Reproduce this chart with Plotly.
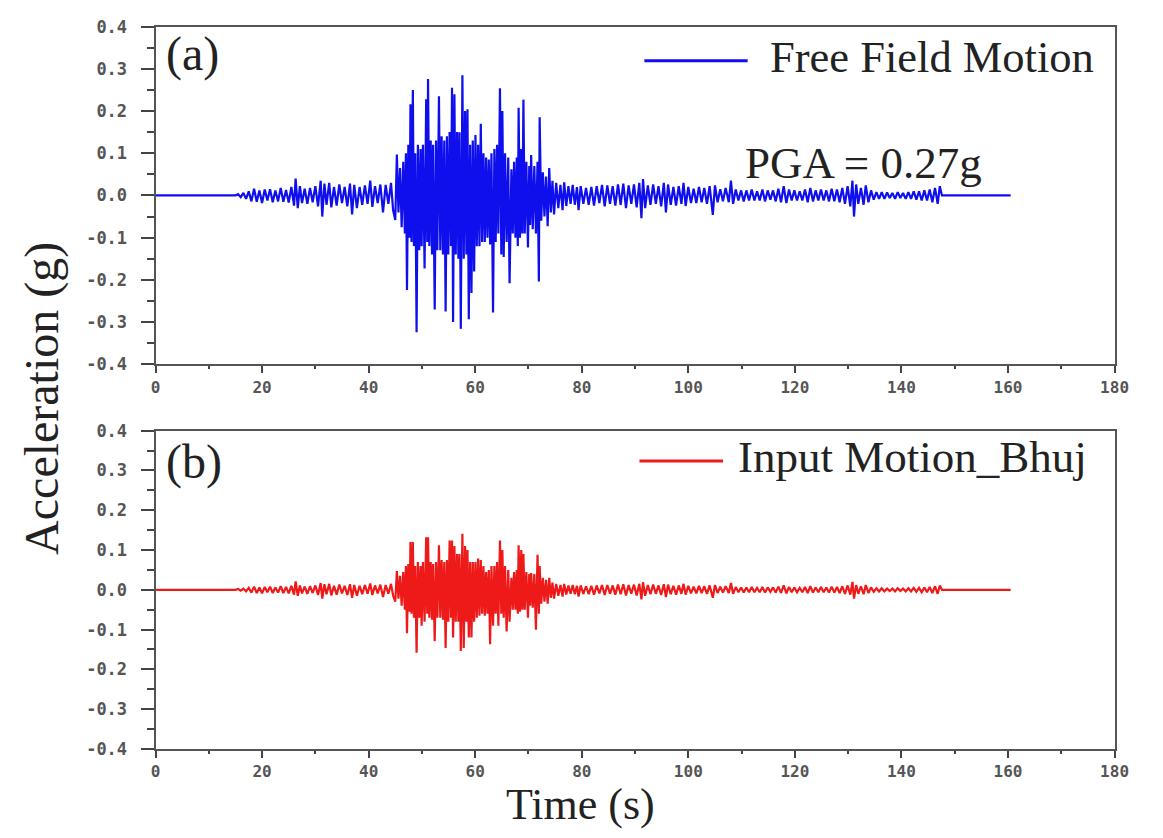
import plotly.graph_objects as go

# Sample times (s) shared by both records
time_s = [
    0.0, 15.0,
    15.5, 16.0, 16.5, 17.0, 17.5, 18.0, 18.5, 19.0, 19.5, 20.0,
    20.5, 21.0, 21.5, 22.0, 22.5, 23.0, 23.5, 24.0, 24.5, 25.0,
    25.5, 26.0, 26.3, 26.7, 27.1, 27.5, 28.0, 28.5, 29.0, 29.5,
    30.0, 30.5, 31.0, 31.3, 31.7, 32.1, 32.6, 33.0, 33.5, 34.0,
    34.5, 35.0, 35.5, 36.0, 36.5, 36.9, 37.3, 37.8, 38.3, 38.8,
    39.3, 39.8, 40.3, 40.7, 41.2, 41.7, 42.2, 42.7, 43.2, 43.7,
    44.2, 44.6,
    45.0, 45.3, 45.6, 45.9, 46.2, 46.5, 46.8, 47.0, 47.2, 47.45,
    47.7, 47.85, 48.05, 48.3, 48.5, 48.75, 49.0, 49.25, 49.5, 49.75,
    49.95, 50.2, 50.5, 50.8, 51.0, 51.15, 51.4, 51.65, 51.9, 52.1,
    52.4, 52.65, 52.9, 53.2, 53.45, 53.7, 53.95, 54.2, 54.45, 54.7,
    54.95, 55.2, 55.45, 55.65, 55.85, 56.1, 56.35, 56.6, 56.85, 57.05,
    57.3, 57.6, 57.85, 58.1, 58.35, 58.55, 58.8, 59.05, 59.3, 59.55,
    59.8, 60.05, 60.3, 60.55, 60.8, 61.05, 61.3, 61.55, 61.8, 62.05,
    62.3, 62.55, 62.8, 63.05, 63.35, 63.6, 63.85, 64.1, 64.35, 64.65,
    64.9, 65.1, 65.35, 65.6, 65.9, 66.2, 66.45, 66.8, 67.05, 67.3,
    67.55, 67.8, 68.0, 68.15, 68.4, 68.65, 68.85, 69.05, 69.3, 69.6,
    69.9, 70.15, 70.3, 70.5, 70.8, 71.1, 71.4, 71.7, 71.95, 72.1,
    72.4, 72.7, 73.0, 73.3, 73.6, 73.9, 74.2, 74.5,
    74.8, 75.2, 75.6, 76.0, 76.4, 76.7, 77.1, 77.5, 77.9, 78.3,
    78.7, 79.1, 79.4, 79.8, 80.3, 80.8, 81.3, 81.8, 82.3, 82.8,
    83.3, 83.8, 84.3, 84.8, 85.3, 85.8, 86.3, 86.8, 87.3, 87.8,
    88.3, 88.8, 89.3, 89.8, 90.3, 90.8, 91.2, 91.5, 91.9, 92.4,
    92.9, 93.4, 93.9, 94.4, 94.9, 95.4, 95.8, 96.2, 96.7, 97.2,
    97.7, 98.2, 98.7, 99.1, 99.5, 100.0, 100.5, 101.0, 101.5, 102.0,
    102.5, 103.0, 103.5, 104.0, 104.6, 105.0, 105.5, 106.0, 106.5, 107.0,
    107.6, 108.0, 108.4, 108.9, 109.4, 109.9, 110.4, 110.9, 111.4, 111.9,
    112.4, 112.9, 113.4, 113.9, 114.4, 114.9, 115.4, 115.9, 116.4, 116.9,
    117.4, 117.9, 118.4, 118.9, 119.4, 119.9, 120.4, 120.9, 121.4, 121.9,
    122.4, 122.9, 123.4, 123.9, 124.4, 124.9, 125.4, 125.9, 126.4, 126.9,
    127.4, 127.9, 128.4, 128.9, 129.4, 129.9, 130.4, 130.8, 131.1, 131.5,
    131.9, 132.4, 132.9, 133.3, 133.8, 134.3, 134.8, 135.3, 135.8, 136.3,
    136.8, 137.3, 137.8, 138.3, 138.8, 139.3, 139.8, 140.3, 140.8, 141.3,
    141.8, 142.3, 142.8, 143.3, 143.8, 144.3, 144.8, 145.3, 145.8, 146.3,
    146.8, 147.2, 147.6, 160.5,
]

# Free field acceleration (g)
free_field_g = [
    0.0, 0.0,
    0.003, -0.004, 0.006, -0.008, 0.010, -0.014, 0.016, -0.015, 0.012, -0.018,
    0.014, -0.012, 0.015, -0.016, 0.012, -0.014, 0.018, -0.015, 0.013, -0.017,
    0.020, -0.024, 0.040, -0.030, 0.022, -0.018, 0.016, -0.020, 0.018, -0.016,
    0.022, -0.026, 0.035, -0.050, 0.028, -0.022, 0.030, -0.028, 0.020, -0.024,
    0.026, -0.018, 0.020, -0.026, 0.028, -0.045, 0.025, -0.030, 0.020, -0.022,
    0.024, -0.020, 0.035, -0.027, 0.022, -0.018, 0.026, -0.040, 0.025, -0.020,
    0.030, -0.035,
    -0.058, 0.097, -0.040, 0.065, -0.075, 0.080, -0.090, 0.100, -0.224, 0.120,
    -0.100, 0.216, -0.110, 0.250, -0.120, 0.100, -0.324, 0.120, -0.130, 0.110,
    -0.120, 0.120, -0.173, 0.228, -0.110, 0.276, -0.120, 0.130, -0.140, 0.120,
    -0.270, 0.130, -0.130, 0.235, -0.130, 0.140, -0.140, 0.130, -0.275, 0.140,
    -0.140, 0.150, -0.120, 0.255, -0.300, 0.240, -0.140, 0.150, -0.150, 0.150,
    -0.316, 0.285, -0.150, 0.200, -0.140, 0.204, -0.293, 0.120, -0.231, 0.130,
    -0.180, 0.143, -0.120, 0.120, -0.120, 0.170, -0.110, 0.100, -0.110, 0.090,
    -0.100, 0.085, -0.116, 0.100, -0.277, 0.110, -0.110, 0.120, -0.090, 0.254,
    -0.140, 0.200, -0.146, 0.100, -0.110, 0.090, -0.208, 0.062, -0.090, 0.080,
    -0.100, 0.090, -0.120, 0.208, -0.100, 0.110, -0.090, 0.227, -0.090, 0.080,
    -0.123, 0.070, -0.070, 0.096, -0.080, 0.070, -0.090, 0.080, -0.204, 0.185,
    -0.060, 0.055, -0.050, 0.045, -0.073, 0.065, -0.040, 0.035,
    -0.045, 0.030, -0.030, 0.025, -0.035, 0.031, -0.025, 0.022, -0.020, 0.025,
    -0.022, 0.020, -0.035, 0.022, -0.020, 0.018, -0.022, 0.020, -0.024, 0.022,
    -0.018, 0.025, -0.026, 0.024, -0.020, 0.022, -0.024, 0.026, -0.022, 0.028,
    -0.030, 0.024, -0.020, 0.026, -0.028, 0.030, -0.054, 0.039, -0.030, 0.024,
    -0.022, 0.026, -0.020, 0.022, -0.026, 0.030, -0.040, 0.026, -0.022, 0.020,
    -0.024, 0.022, -0.020, 0.030, -0.025, 0.020, -0.018, 0.016, -0.018, 0.020,
    -0.016, 0.018, -0.020, 0.022, -0.046, 0.024, -0.016, 0.015, -0.014, 0.018,
    -0.016, 0.035, -0.020, 0.014, -0.012, 0.012, -0.014, 0.012, -0.012, 0.014,
    -0.012, 0.010, -0.012, 0.014, -0.014, 0.012, -0.010, 0.012, -0.014, 0.016,
    -0.016, 0.022, -0.018, 0.014, -0.012, 0.012, -0.012, 0.010, -0.012, 0.014,
    -0.016, 0.018, -0.014, 0.012, -0.012, 0.014, -0.012, 0.012, -0.014, 0.016,
    -0.014, 0.014, -0.016, 0.018, -0.020, 0.022, -0.026, 0.035, -0.050, 0.026,
    -0.020, 0.018, -0.022, 0.024, -0.016, 0.012, -0.010, 0.008, -0.008, 0.008,
    -0.008, 0.007, -0.006, 0.006, -0.008, 0.008, -0.006, 0.006, -0.008, 0.008,
    -0.008, 0.010, -0.010, 0.010, -0.012, 0.012, -0.012, 0.014, -0.016, 0.018,
    -0.020, 0.022, 0.0, 0.0,
]

# Input motion (Bhuj) acceleration (g)
input_bhuj_g = [
    0.0, 0.0,
    0.002, -0.002, 0.003, -0.004, 0.005, -0.007, 0.008, -0.008, 0.006, -0.009,
    0.007, -0.006, 0.008, -0.008, 0.006, -0.007, 0.009, -0.008, 0.007, -0.009,
    0.010, -0.012, 0.021, -0.015, 0.011, -0.009, 0.008, -0.010, 0.009, -0.008,
    0.011, -0.013, 0.017, -0.022, 0.014, -0.011, 0.015, -0.014, 0.010, -0.012,
    0.013, -0.009, 0.010, -0.013, 0.014, -0.020, 0.012, -0.015, 0.010, -0.011,
    0.012, -0.010, 0.016, -0.013, 0.011, -0.009, 0.013, -0.018, 0.012, -0.010,
    0.015, -0.015,
    -0.030, 0.047, -0.022, 0.035, -0.040, 0.045, -0.050, 0.060, -0.109, 0.065,
    -0.055, 0.120, -0.060, 0.120, -0.070, 0.060, -0.158, 0.070, -0.070, 0.060,
    -0.090, 0.070, -0.080, 0.132, -0.060, 0.132, -0.070, 0.070, -0.075, 0.065,
    -0.129, 0.070, -0.070, 0.112, -0.070, 0.075, -0.075, 0.070, -0.146, 0.075,
    -0.080, 0.124, -0.070, 0.124, -0.120, 0.110, -0.080, 0.090, -0.080, 0.090,
    -0.154, 0.141, -0.146, 0.110, -0.080, 0.100, -0.120, 0.070, -0.120, 0.070,
    -0.080, 0.070, -0.070, 0.079, -0.065, 0.075, -0.060, 0.060, -0.065, 0.045,
    -0.060, 0.050, -0.137, 0.060, -0.090, 0.060, -0.060, 0.070, -0.090, 0.124,
    -0.060, 0.100, -0.070, 0.060, -0.105, 0.050, -0.080, 0.030, -0.050, 0.045,
    -0.050, 0.050, -0.060, 0.112, -0.055, 0.100, -0.050, 0.090, -0.050, 0.045,
    -0.070, 0.040, -0.040, 0.042, -0.045, 0.040, -0.100, 0.088, -0.060, 0.060,
    -0.035, 0.030, -0.030, 0.025, -0.035, 0.030, -0.020, 0.018,
    -0.022, 0.015, -0.015, 0.012, -0.017, 0.015, -0.012, 0.011, -0.010, 0.012,
    -0.011, 0.010, -0.017, 0.011, -0.010, 0.009, -0.011, 0.010, -0.012, 0.011,
    -0.009, 0.012, -0.013, 0.012, -0.010, 0.011, -0.012, 0.013, -0.011, 0.014,
    -0.014, 0.012, -0.010, 0.013, -0.014, 0.015, -0.024, 0.019, -0.015, 0.012,
    -0.011, 0.013, -0.010, 0.011, -0.013, 0.014, -0.018, 0.013, -0.011, 0.010,
    -0.012, 0.011, -0.010, 0.015, -0.012, 0.010, -0.009, 0.008, -0.009, 0.010,
    -0.008, 0.009, -0.010, 0.011, -0.020, 0.012, -0.008, 0.008, -0.007, 0.009,
    -0.008, 0.017, -0.010, 0.007, -0.006, 0.006, -0.007, 0.006, -0.006, 0.007,
    -0.006, 0.005, -0.006, 0.007, -0.007, 0.006, -0.005, 0.006, -0.007, 0.008,
    -0.008, 0.011, -0.009, 0.007, -0.006, 0.006, -0.006, 0.005, -0.006, 0.007,
    -0.008, 0.009, -0.007, 0.006, -0.006, 0.007, -0.006, 0.006, -0.007, 0.008,
    -0.007, 0.007, -0.008, 0.009, -0.010, 0.011, -0.012, 0.020, -0.022, 0.012,
    -0.010, 0.009, -0.011, 0.012, -0.008, 0.006, -0.005, 0.004, -0.004, 0.004,
    -0.004, 0.003, -0.003, 0.003, -0.004, 0.004, -0.003, 0.003, -0.004, 0.004,
    -0.004, 0.005, -0.005, 0.005, -0.006, 0.006, -0.006, 0.007, -0.008, 0.009,
    -0.010, 0.011, 0.0, 0.0,
]

x_tick_values = [0, 20, 40, 60, 80, 100, 120, 140, 160, 180]
x_tick_labels = ["0", "20", "40", "60", "80", "100", "120", "140", "160", "180"]
y_tick_values = [-0.4, -0.3, -0.2, -0.1, 0.0, 0.1, 0.2, 0.3, 0.4]
y_tick_labels = ["-0.4", "-0.3", "-0.2", "-0.1", "0.0", "0.1", "0.2", "0.3", "0.4"]

BLUE = "#0f0fee"
RED = "#ee1a1a"
SERIF = "Liberation Serif"
TICK_FONT = dict(family="DejaVu Sans Mono", size=17, color="#555555", weight="bold")
X_TICK_FONT = dict(family="DejaVu Sans Mono", size=16, color="#555555", weight="bold")

fig = go.Figure()
fig.add_trace(go.Scatter(x=time_s, y=free_field_g, mode="lines",
                         line=dict(color=BLUE, width=2.2),
                         name="Free Field Motion", xaxis="x", yaxis="y"))
fig.add_trace(go.Scatter(x=time_s, y=input_bhuj_g, mode="lines",
                         line=dict(color=RED, width=2.2),
                         name="Input Motion_Bhuj", xaxis="x2", yaxis="y2"))

def x_axis(domain, anchor):
    return dict(domain=domain, anchor=anchor, range=[0, 180],
                tickmode="array", tickvals=x_tick_values, ticktext=x_tick_labels,
                ticks="outside", ticklen=7, tickwidth=2, tickcolor="#444",
                minor=dict(dtick=10, ticks="outside", ticklen=3, tickwidth=2,
                           tickcolor="#444", showgrid=False),
                showline=True, linecolor="#555", linewidth=2, mirror=True,
                showgrid=False, zeroline=False, tickfont=X_TICK_FONT,
                ticklabelstandoff=0)

def y_axis(domain, anchor):
    return dict(domain=domain, anchor=anchor, range=[-0.4, 0.4],
                tickmode="array", tickvals=y_tick_values, ticktext=y_tick_labels,
                ticks="outside", ticklen=13, tickwidth=2, tickcolor="#444",
                minor=dict(dtick=0.05, ticks="outside", ticklen=7, tickwidth=2,
                           tickcolor="#444", showgrid=False),
                showline=True, linecolor="#555", linewidth=2, mirror=True,
                showgrid=False, zeroline=False, tickfont=TICK_FONT,
                ticklabelstandoff=10)

X_DOM = [153 / 1163, 1128 / 1163]
TOP_DOM = [475 / 838, 821 / 838]
BOT_DOM = [81 / 838, 407 / 838]

fig.update_layout(
    width=1163, height=838, autosize=False,
    margin=dict(l=0, r=0, t=0, b=0),
    paper_bgcolor="white", plot_bgcolor="white",
    showlegend=False,
    xaxis=x_axis(X_DOM, "y"), yaxis=y_axis(TOP_DOM, "x"),
    xaxis2=x_axis(X_DOM, "y2"), yaxis2=y_axis(BOT_DOM, "x2"),
)

TEXT = "#222222"

def label(text, x, y, size, xanchor="left", angle=0, yanchor="middle"):
    fig.add_annotation(text=text, x=x, y=y, xref="paper", yref="paper",
                       xanchor=xanchor, yanchor=yanchor, showarrow=False,
                       textangle=angle,
                       font=dict(family=SERIF, size=size, color=TEXT))

# Panel tags, PGA note and axis titles
label("(a)", 162 / 1163, 1 - 45 / 838, 48)
label("(b)", 162 / 1163, 1 - 463 / 838, 48)
label("PGA = 0.27g", 750 / 1163, 1 - 157 / 838, 45)
label("Acceleration (g)", 37 / 1163, 1 - 398 / 838, 48, xanchor="center", angle=-90)
label("Time (s)", 585 / 1163, -0.004, 44, xanchor="center", yanchor="bottom")

# Legend keys drawn in each panel
for x0, x1, yc, ty, color, text, tx, size in [
    (650, 755, 52, 48, BLUE, "Free Field Motion", 776, 44.5),
    (645, 730, 462, 458, RED, "Input Motion_Bhuj", 743, 45),
]:
    fig.add_shape(type="line", xref="paper", yref="paper",
                  x0=x0 / 1163, x1=x1 / 1163, y0=1 - yc / 838, y1=1 - yc / 838,
                  line=dict(color=color, width=3))
    label(text, tx / 1163, 1 - ty / 838, size)

fig.write_html("out.html")
